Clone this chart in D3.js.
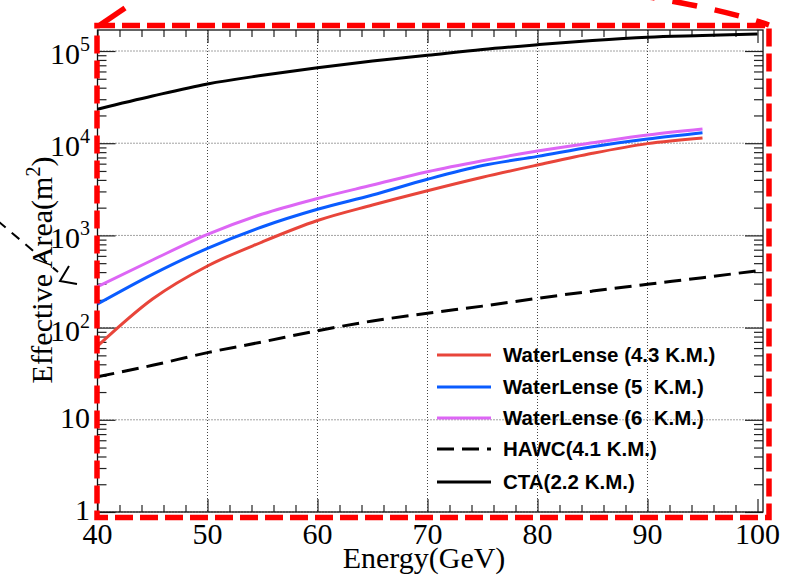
<!DOCTYPE html>
<html>
<head>
<meta charset="utf-8">
<script src="https://cdn.jsdelivr.net/npm/d3@7"></script>
<style>
  html, body { margin: 0; padding: 0; background: #fff; }
  svg { display: block; }
</style>
</head>
<body>
<div class="chart"></div>
<script>
// Dimensions
const width = 788;
const height = 578;
const box = { left: 97.5, right: 763, top: 30, bottom: 512 };

// Données
const energyWL = [40, 45, 50, 55, 60, 65, 70, 75, 80, 85, 90, 95];
const energyFull = [40, 45, 50, 55, 60, 65, 70, 75, 80, 85, 90, 95, 100];
const wl43 = [63, 204, 466, 852, 1450, 2135, 3050, 4270, 5800, 7770, 9900, 11400];
const wl5 = [180, 378, 725, 1242, 1920, 2740, 4060, 5720, 7200, 9170, 11100, 13000];
const wl6 = [278, 541, 1025, 1706, 2515, 3520, 4910, 6460, 8230, 10100, 12270, 14260];
const hawc = [29.3, 39, 53.5, 70, 92.5, 118, 143, 171, 208, 249, 295, 348, 414];
const cta = [23400, 32500, 43900, 54500, 66000, 78000, 90000, 104000, 117000, 130000, 141000, 147000, 153000];

const seriesNames = ['WaterLense (4.3 K.M.)', 'WaterLense (5  K.M.)', 'WaterLense (6  K.M.)', 'HAWC(4.1 K.M.)', 'CTA(2.2 K.M.)'];
const seriesColors = ['#e8453a', '#0a5cff', '#dd66f5', '#000000', '#000000'];
const seriesDash = [null, null, null, '17 8', null];

const xMajor = [40, 50, 60, 70, 80, 90, 100];
const xMinor = d3.range(42, 100, 2).filter(v => v % 10 !== 0);
const yMajor = [1, 10, 100, 1000, 10000, 100000];
const yExp = ['1', '10', '2', '3', '4', '5'];
const yMinor = [];
[1, 10, 100, 1000, 10000, 100000].forEach(d => d3.range(2, 10).forEach(m => { if (d * m < 169000) yMinor.push(d * m); }));

const series = [
  { x: energyWL, y: wl43 },
  { x: energyWL, y: wl5 },
  { x: energyWL, y: wl6 },
  { x: energyFull, y: hawc },
  { x: energyFull, y: cta }
];

const svg = d3.select('.chart').append('svg')
  .attr('width', width)
  .attr('height', height);

// Echelles
const x = d3.scaleLinear().domain([40, 100.5]).range([box.left, box.right]);
const y = d3.scaleLog().domain([1, 169000]).range([box.bottom, box.top]);

// Grille pointillée
const grid = svg.append('g').attr('stroke', '#444').attr('stroke-width', 1).attr('stroke-dasharray', '1 2');
grid.selectAll('.gx').data(xMajor.slice(1, -1)).join('line')
  .attr('x1', d => x(d)).attr('x2', d => x(d))
  .attr('y1', box.top).attr('y2', box.bottom);
grid.selectAll('.gy').data(yMajor).join('line')
  .attr('class', 'gy')
  .attr('x1', box.left).attr('x2', box.right)
  .attr('y1', d => y(d)).attr('y2', d => y(d));

// Axes (graduations vers l'intérieur, sur les 4 côtés)
function ticks(axis, tr, size, vals) {
  svg.append('g')
    .attr('transform', tr)
    .call(axis.tickValues(vals).tickSize(-size).tickFormat(''))
    .call(g => g.select('.domain').remove())
    .call(g => g.selectAll('line').attr('stroke', '#222').attr('stroke-width', 1.2));
}
ticks(d3.axisBottom(x), `translate(0,${box.bottom})`, 13, xMajor);
ticks(d3.axisBottom(x), `translate(0,${box.bottom})`, 7, xMinor);
ticks(d3.axisTop(x), `translate(0,${box.top})`, 13, xMajor);
ticks(d3.axisTop(x), `translate(0,${box.top})`, 7, xMinor);
ticks(d3.axisLeft(y), `translate(${box.left},0)`, 18, yMajor);
ticks(d3.axisLeft(y), `translate(${box.left},0)`, 9, yMinor);
ticks(d3.axisRight(y), `translate(${box.right},0)`, 18, yMajor);
ticks(d3.axisRight(y), `translate(${box.right},0)`, 9, yMinor);

// Cadre
svg.append('rect')
  .attr('x', box.left).attr('y', box.top)
  .attr('width', box.right - box.left).attr('height', box.bottom - box.top)
  .attr('fill', 'none').attr('stroke', '#111').attr('stroke-width', 1.3);

// Etiquettes X
svg.append('g')
  .attr('font-family', '"Liberation Serif", "Times New Roman", serif')
  .attr('font-size', 30)
  .attr('text-anchor', 'middle')
  .selectAll('text').data(xMajor).join('text')
  .attr('x', d => x(d))
  .attr('y', 544)
  .text(d => d);

// Etiquettes Y (puissances de 10)
const yLab = svg.append('g')
  .attr('font-family', '"Liberation Serif", "Times New Roman", serif')
  .attr('font-size', 30)
  .attr('text-anchor', 'end')
  .selectAll('text').data(yMajor).join('text')
  .attr('x', 90)
  .attr('y', d => y(d) + (d > 10 ? 13 : 8));
yLab.each(function (d, i) {
  const t = d3.select(this);
  if (d <= 10) { t.text(d); return; }
  t.append('tspan').text('10');
  t.append('tspan').attr('font-size', 20).attr('dy', -13).text(yExp[i]);
});

// Titres des axes
svg.append('text')
  .attr('x', 424).attr('y', 568)
  .attr('text-anchor', 'middle')
  .attr('font-family', '"Liberation Serif", "Times New Roman", serif')
  .attr('font-size', 30)
  .text('Energy(GeV)');

const yTitle = svg.append('text')
  .attr('transform', 'translate(52,270) rotate(-90)')
  .attr('text-anchor', 'middle')
  .attr('font-family', '"Liberation Serif", "Times New Roman", serif')
  .attr('font-size', 30);
yTitle.append('tspan').text('Effective Area(m');
yTitle.append('tspan').attr('font-size', 20).attr('dy', -12).text('2');
yTitle.append('tspan').attr('dy', 12).text(')');

// Courbes
const line = d3.line().curve(d3.curveMonotoneX);
svg.append('g')
  .attr('fill', 'none')
  .selectAll('path').data(series).join('path')
  .attr('d', s => line(s.x.map((e, i) => [x(e), y(s.y[i])])))
  .attr('stroke', (s, i) => seriesColors[i])
  .attr('stroke-width', 3)
  .attr('stroke-dasharray', (s, i) => seriesDash[i]);

// Légende
const legY = [355, 387, 418, 449, 482];
const leg = svg.append('g');
leg.selectAll('line').data(seriesNames).join('line')
  .attr('x1', 437).attr('x2', 491)
  .attr('y1', (d, i) => legY[i]).attr('y2', (d, i) => legY[i])
  .attr('stroke', (d, i) => seriesColors[i])
  .attr('stroke-width', 3)
  .attr('stroke-dasharray', (d, i) => seriesDash[i]);
leg.selectAll('text').data(seriesNames).join('text')
  .attr('x', 503)
  .attr('y', (d, i) => legY[i])
  .attr('dy', '0.36em')
  .attr('font-family', '"Liberation Sans", Arial, sans-serif')
  .attr('font-weight', 'bold')
  .attr('font-size', 20.5)
  .style('white-space', 'pre')
  .text(d => d);

// Annotations (cadre rouge et flèches ajoutées sur la figure)
const redDash = '18 7';
svg.append('rect')
  .attr('x', 97).attr('y', 25.5)
  .attr('width', 672).attr('height', 492)
  .attr('fill', 'none').attr('stroke', '#ff0000')
  .attr('stroke-width', 5.5).attr('stroke-dasharray', redDash);
svg.append('path')
  .attr('d', 'M100,25 L125,8')
  .attr('stroke', '#ff0000').attr('stroke-width', 5.5).attr('fill', 'none');
svg.append('path')
  .attr('d', 'M630,-6 Q720,8 769,25')
  .attr('stroke', '#ff0000').attr('stroke-width', 5.5).attr('fill', 'none')
  .attr('stroke-dasharray', '25 18');
svg.append('path')
  .attr('d', 'M-2,221 L58,272')
  .attr('stroke', '#000').attr('stroke-width', 2).attr('fill', 'none')
  .attr('stroke-dasharray', '10 8');
svg.append('path')
  .attr('d', 'M69,266 L60,281 L77,284')
  .attr('stroke', '#000').attr('stroke-width', 2).attr('fill', 'none');
</script>
</body>
</html>
